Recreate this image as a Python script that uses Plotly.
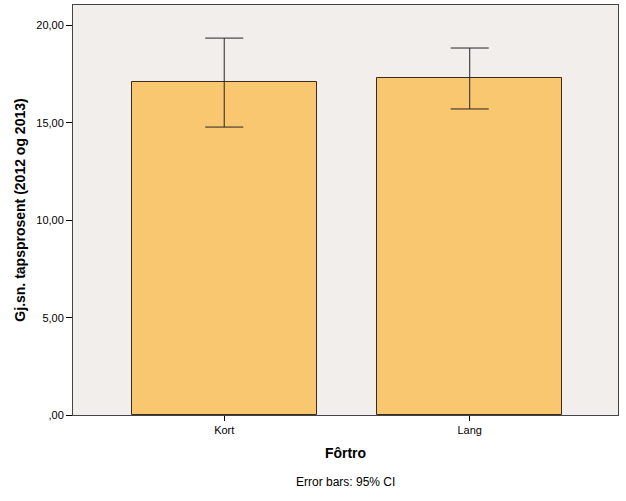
import plotly.graph_objects as go

categories = ["Kort", "Lang"]
means = [17.10, 17.31]
ci_upper = [19.36, 18.85]
ci_lower = [14.79, 15.72]
y_tickvals = [0, 5, 10, 15, 20]
y_ticktext = [",00", "5,00", "10,00", "15,00", "20,00"]

err_plus = [u - m for u, m in zip(ci_upper, means)]
err_minus = [m - l for m, l in zip(means, ci_lower)]

fig = go.Figure(
    go.Bar(
        x=categories,
        y=means,
        width=0.755,
        marker=dict(color="#F9C76F", line=dict(color="#3B2B1E", width=1)),
        error_y=dict(
            type="data",
            symmetric=False,
            array=err_plus,
            arrayminus=err_minus,
            color="#262626",
            thickness=1,
            width=19,
        ),
    )
)

font_family = "Liberation Sans, Arial, sans-serif"

fig.update_layout(
    width=626,
    height=501,
    margin=dict(l=73, r=8, t=5, b=86),
    paper_bgcolor="white",
    plot_bgcolor="#F2EEEB",
    font=dict(family=font_family, size=11, color="#000"),
    showlegend=False,
    bargap=0,
    annotations=[
        dict(
            text="Error bars: 95% CI",
            x=0.5, xref="paper",
            y=-(482 - 415) / 410, yref="paper",
            yanchor="middle",
            showarrow=False,
            font=dict(size=12, family=font_family),
        )
    ],
)

fig.update_xaxes(
    type="category",
    range=[-0.616, 1.604],
    showline=True,
    linecolor="#444",
    linewidth=1,
    mirror=True,
    ticks="outside",
    ticklen=5,
    tickcolor="#000",
    showgrid=False,
    tickfont=dict(size=11),
    title=dict(text="Fôrtro", font=dict(size=14, family=font_family, weight="bold"), standoff=12),
)
fig.update_yaxes(
    range=[0, 21.06],
    tickvals=y_tickvals,
    ticktext=y_ticktext,
    showline=True,
    linecolor="#444",
    linewidth=1,
    mirror=True,
    ticks="outside",
    ticklen=6,
    tickcolor="#000",
    showgrid=False,
    zeroline=False,
    tickfont=dict(size=11),
    title=dict(text="Gj.sn. tapsprosent (2012 og 2013)", font=dict(size=14, family=font_family, weight="bold"), standoff=7),
)

fig.write_html("out.html")
